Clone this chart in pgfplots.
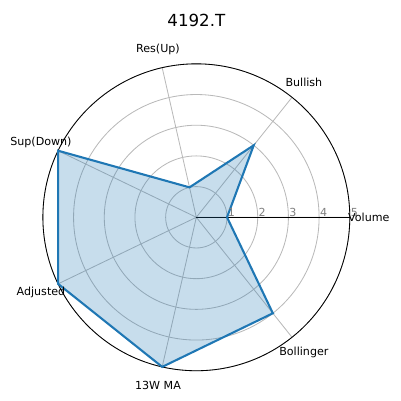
\documentclass[border=0pt]{standalone}
\usepackage{fontspec}
\setmainfont{DejaVu Sans}
\usepackage{pgfplots}
\usepgfplotslibrary{polar}
\pgfplotsset{compat=1.18}
\definecolor{mplblue}{HTML}{1F77B4}
\begin{document}
\begin{tikzpicture}
\path[use as bounding box] (-141.5pt,156.6pt) rectangle (147.5pt,-132.4pt);
\begin{polaraxis}[
    at={(0,0)}, anchor=center,
    scale only axis,
    width=221.2pt, height=221.2pt,
    clip=false,
    xmin=0, xmax=360,
    ymin=0, ymax=5,
    xtick={0,51.4286,102.8571,154.2857,205.7143,257.1429,308.5714},
    xticklabels={},
    ytick={1,2,3,4,5},
    yticklabels={},
    grid=major,
    major grid style={gray!55, line width=0.6pt},
    axis line style={black, line width=0.6pt},
    major tick length=0pt,
]
\addplot[mplblue, line width=1.5pt, fill=mplblue, fill opacity=0.25, draw opacity=1]
  coordinates {(0,1) (51.4286,3) (102.8571,1) (154.2857,5) (205.7143,5) (257.1429,5) (308.5714,4) (360,1)};
\foreach \r in {1,2,3,4,5}{
  \edef\tmp{\noexpand\node[anchor=south west, inner sep=0.5pt, text=gray, font=\noexpand\fontsize{8}{9}\noexpand\selectfont] at (axis cs:0,\r) {\r};}
  \tmp
}
\foreach \a/\lab in {0/Volume,51.4286/Bullish,102.8571/Res(Up),154.2857/Sup(Down),205.7143/Adjusted,257.1429/13W MA,308.5714/Bollinger}{
  \edef\tmp{\noexpand\node[anchor=center, inner sep=0pt, font=\noexpand\fontsize{8}{9}\noexpand\selectfont] at (axis cs:\a,5.62) {\lab};}
  \tmp
}
\node[anchor=center, font=\fontsize{12}{14}\selectfont] at (axis cs:90,6.43) {4192.T};
\end{polaraxis}
\end{tikzpicture}
\end{document}
